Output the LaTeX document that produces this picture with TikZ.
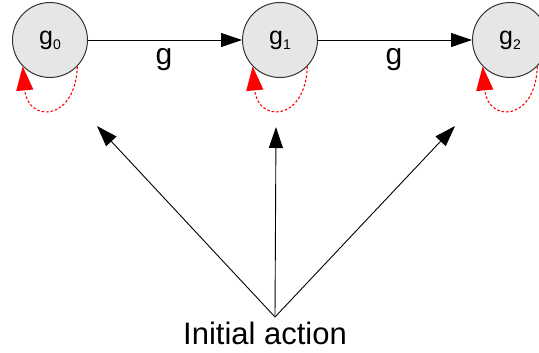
\documentclass[tikz,border=0pt]{standalone}
\usepackage{fontspec}
\setmainfont{Liberation Sans}
\usetikzlibrary{arrows.meta}
\definecolor{nodefill}{HTML}{E6E6E6}
\definecolor{nodeline}{HTML}{333333}
\begin{document}
\begin{tikzpicture}[x=1pt,y=-1pt,
  state/.style={circle,draw=nodeline,fill=nodefill,line width=1pt,minimum size=75pt,inner sep=0pt,font=\fontsize{25}{25}\selectfont},
  blackarrow/.style={line width=0.9pt,-{Triangle[length=21pt,width=14pt]}},
  loop/.style={red,dash pattern=on 2.5pt off 2pt,line width=1.1pt,-{Triangle[length=24pt,width=17pt,fill=red]}},
  edgelabel/.style={font=\fontsize{30}{30}\selectfont,inner sep=0pt}
]
\useasboundingbox (0,0) rectangle (539,353);
\clip (0,0) rectangle (539,353);
\node[state] (g0) at (50,40) {g\raisebox{-5pt}{\fontsize{14}{14}\selectfont 0}};
\node[state] (g1) at (280,40) {g\raisebox{-5pt}{\fontsize{14}{14}\selectfont 1}};
\node[state] (g2) at (510,40) {g\raisebox{-5pt}{\fontsize{14}{14}\selectfont 2}};
\draw[blackarrow] (g0) -- (g1);
\draw[blackarrow] (g1) -- (g2);
\node[edgelabel] (l1) at (164,60) {g};
\node[edgelabel] (l2) at (394,60) {g};
\foreach \n in {g0,g1,g2}{
  \draw[loop] (\n.-44) .. controls ([xshift=-2pt,yshift=-56pt]\n.-44) and ([xshift=5pt,yshift=-56pt]\n.-136) .. (\n.-136);
}
\node[font=\fontsize{31}{31}\selectfont,inner sep=0pt] (init) at (265,333) {Initial action};
\coordinate (apex) at (275,317);
\coordinate (t0) at (97,126);
\coordinate (t1) at (276,127);
\coordinate (t2) at (455,126);
\draw[blackarrow] (apex) -- (t0);
\draw[blackarrow] (apex) -- (t1);
\draw[blackarrow] (apex) -- (t2);
\end{tikzpicture}
\end{document}
